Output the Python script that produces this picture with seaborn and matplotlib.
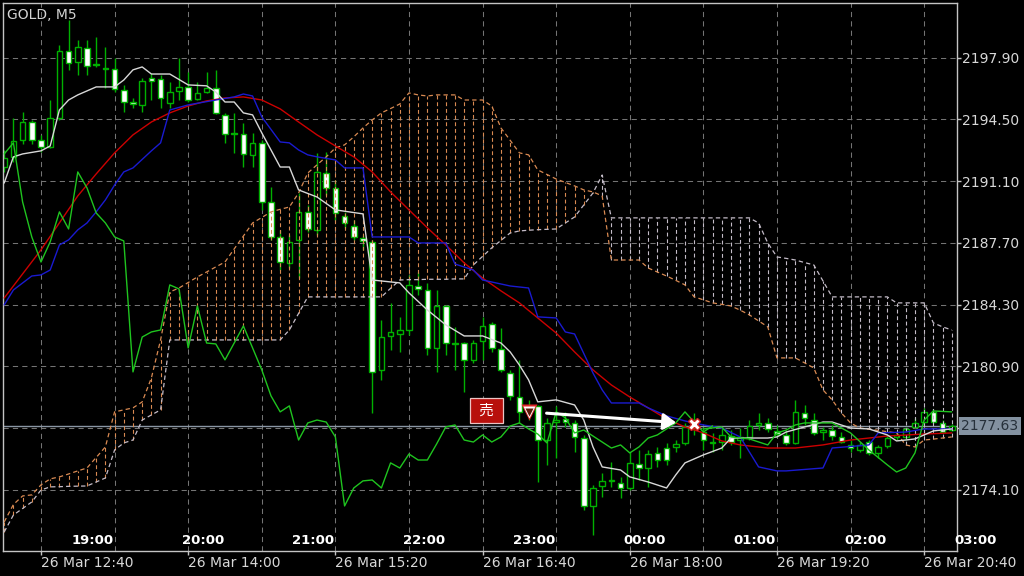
import matplotlib
matplotlib.use("Agg")
import matplotlib.pyplot as plt
import seaborn as sns
import numpy as np
import pandas as pd

# GOLD M5, 26 Mar, bars 12:20 .. 20:55 (server time)
opens = [2191.88, 2192.44, 2193.37, 2194.36, 2193.37, 2192.99, 2194.58, 2198.27, 2197.67, 2198.44,
         2197.56, 2197.34, 2197.28, 2196.12, 2195.46, 2195.30, 2196.79, 2196.73, 2195.41, 2196.07,
         2196.29, 2195.63, 2196.01, 2196.23, 2194.75, 2193.76, 2193.70, 2192.55, 2193.21, 2189.96,
         2188.03, 2186.60, 2187.87, 2189.41, 2188.42, 2191.55, 2190.73, 2189.19, 2188.64, 2187.98,
         2187.76, 2180.71, 2182.58, 2182.69, 2182.91, 2185.33, 2185.11, 2181.92, 2184.23, 2182.19,
         2182.19, 2181.26, 2182.30, 2183.24, 2181.86, 2180.54, 2179.22, 2178.40, 2178.73, 2176.85,
         2177.84, 2178.01, 2177.79, 2176.96, 2173.22, 2174.32, 2174.60, 2174.49, 2174.21, 2175.53,
         2175.31, 2176.14, 2176.41, 2176.47, 2176.69, 2177.95, 2177.29, 2176.69, 2176.74, 2177.07,
         2176.85, 2177.02, 2177.68, 2177.79, 2177.35, 2177.13, 2176.69, 2178.34, 2177.95, 2177.29,
         2177.40, 2177.02, 2176.58, 2176.30, 2176.74, 2176.14, 2176.52, 2177.02, 2177.02, 2177.57,
         2177.84, 2178.40, 2177.79, 2177.40]
highs = [2192.82, 2194.58, 2194.91, 2194.47, 2193.65, 2195.57, 2198.60, 2199.98, 2198.88, 2198.88,
         2199.04, 2198.49, 2197.89, 2196.40, 2195.68, 2196.79, 2197.06, 2196.95, 2196.57, 2197.89,
         2197.12, 2196.57, 2197.12, 2197.23, 2194.86, 2194.86, 2194.31, 2193.76, 2193.37, 2190.78,
         2188.42, 2188.14, 2190.45, 2189.79, 2192.66, 2192.71, 2191.17, 2189.41, 2188.97, 2188.14,
         2187.87, 2183.46, 2184.40, 2183.63, 2185.94, 2186.10, 2185.50, 2185.11, 2184.29, 2183.08,
         2182.25, 2182.36, 2183.63, 2183.35, 2183.02, 2180.71, 2181.26, 2179.06, 2178.78, 2178.07,
         2178.73, 2178.40, 2177.95, 2177.13, 2174.38, 2175.04, 2175.64, 2174.82, 2176.19, 2176.30,
         2176.30, 2176.47, 2176.69, 2176.85, 2177.79, 2178.34, 2177.57, 2177.24, 2177.57, 2177.40,
         2177.51, 2177.95, 2178.34, 2178.07, 2177.68, 2177.40, 2179.06, 2178.78, 2178.34, 2177.57,
         2177.68, 2177.29, 2176.85, 2176.74, 2176.85, 2176.58, 2177.13, 2177.29, 2177.57, 2178.07,
         2178.62, 2178.56, 2177.95, 2177.73]
lows = [2191.61, 2192.16, 2193.15, 2193.15, 2192.71, 2192.93, 2194.47, 2197.23, 2196.95, 2196.95,
        2197.39, 2196.23, 2196.01, 2194.91, 2195.13, 2194.91, 2195.57, 2195.13, 2195.13, 2195.57,
        2195.46, 2195.57, 2195.96, 2194.80, 2193.21, 2192.66, 2191.88, 2191.88, 2189.52, 2187.87,
        2186.21, 2186.32, 2185.77, 2188.31, 2188.14, 2190.34, 2188.97, 2188.53, 2187.87, 2187.32,
        2178.34, 2180.16, 2181.81, 2181.70, 2182.63, 2184.84, 2181.53, 2180.60, 2181.53, 2180.71,
        2179.50, 2181.09, 2181.26, 2181.70, 2180.60, 2179.06, 2177.79, 2177.95, 2174.54, 2175.48,
        2175.86, 2177.57, 2176.19, 2173.00, 2171.62, 2173.72, 2174.27, 2173.66, 2174.10, 2174.65,
        2174.27, 2175.37, 2175.48, 2176.19, 2176.58, 2177.13, 2176.30, 2176.19, 2176.30, 2176.58,
        2175.86, 2176.85, 2177.40, 2177.29, 2177.02, 2176.58, 2176.63, 2177.68, 2177.13, 2176.85,
        2176.85, 2176.69, 2176.19, 2176.19, 2176.03, 2175.86, 2176.41, 2176.85, 2176.85, 2177.51,
        2177.79, 2177.79, 2177.24, 2177.35]
closes = [2192.38, 2193.32, 2194.36, 2193.37, 2192.99, 2194.58, 2198.27, 2197.61, 2198.49, 2197.45,
          2197.50, 2197.28, 2196.18, 2195.46, 2195.35, 2196.62, 2196.62, 2195.68, 2196.01, 2196.29,
          2195.57, 2195.96, 2196.23, 2194.86, 2193.70, 2193.70, 2192.60, 2193.21, 2189.96, 2188.03,
          2186.65, 2187.76, 2189.41, 2188.47, 2191.61, 2190.73, 2189.35, 2188.80, 2188.03, 2187.81,
          2180.60, 2182.52, 2182.80, 2182.91, 2185.39, 2185.17, 2181.92, 2184.23, 2182.19, 2182.14,
          2181.26, 2182.19, 2183.13, 2181.92, 2180.71, 2179.28, 2178.40, 2178.73, 2176.85, 2177.79,
          2177.95, 2177.84, 2177.02, 2173.22, 2174.21, 2174.60, 2174.65, 2174.21, 2175.59, 2175.31,
          2176.08, 2175.75, 2175.75, 2176.63, 2177.57, 2177.68, 2176.85, 2176.74, 2177.13, 2176.74,
          2177.02, 2177.62, 2177.79, 2177.46, 2177.18, 2176.69, 2178.40, 2178.07, 2177.24, 2177.40,
          2177.07, 2176.74, 2176.41, 2176.58, 2176.14, 2176.47, 2176.96, 2177.13, 2177.46, 2177.79,
          2178.40, 2177.84, 2177.29, 2177.63]

# ichimoku lines (vertices, bar index -> price)
tenkan_idx = [0, 1, 2, 4, 5, 6, 7, 8, 10, 12, 13, 14, 15, 16, 18, 20, 22, 23, 24, 25,
              26, 27, 28, 30, 31, 32, 34, 36, 39, 40, 43, 44, 46, 48, 50, 52, 54, 55, 56, 57,
              58, 60, 62, 63, 64, 65, 67, 68, 70, 72, 73, 74, 76, 78, 79, 83, 84, 85, 87, 89,
              90, 92, 94, 96, 97, 98, 99, 100, 101, 103]
tenkan_val = [2191.00, 2192.44, 2192.60, 2192.77, 2193.04, 2195.02, 2195.57, 2195.85, 2196.29, 2196.29,
              2196.67, 2197.23, 2197.39, 2197.00, 2197.00, 2196.40, 2196.35, 2196.01, 2195.46, 2195.46,
              2194.86, 2194.75, 2193.76, 2191.88, 2191.88, 2190.62, 2190.23, 2189.52, 2189.30, 2185.66,
              2185.50, 2184.95, 2184.01, 2183.19, 2182.58, 2182.58, 2182.19, 2181.70, 2180.98, 2180.16,
              2178.95, 2179.06, 2178.78, 2177.95, 2176.47, 2175.37, 2175.20, 2174.82, 2174.54, 2174.21,
              2174.93, 2175.59, 2176.03, 2176.41, 2176.96, 2176.96, 2177.02, 2177.29, 2177.57, 2177.84,
              2177.84, 2177.51, 2177.46, 2177.13, 2176.80, 2176.85, 2176.91, 2177.13, 2177.35, 2177.46]

kijun_idx = [0, 1, 3, 4, 5, 6, 7, 8, 9, 10, 11, 12, 13, 14, 16, 17, 18, 20, 23, 25,
             26, 27, 28, 30, 31, 32, 33, 34, 36, 37, 39, 40, 44, 45, 48, 49, 51, 52, 55, 57,
             58, 60, 61, 62, 64, 65, 66, 69, 70, 71, 72, 74, 76, 78, 80, 82, 84, 85, 89, 90,
             94, 95, 98, 100, 103]
kijun_val = [2184.29, 2185.11, 2185.88, 2185.94, 2186.21, 2187.59, 2187.87, 2188.42, 2188.80, 2189.41,
             2190.07, 2190.89, 2191.61, 2191.83, 2192.77, 2193.21, 2195.02, 2195.30, 2195.57, 2195.74,
             2195.90, 2195.79, 2194.64, 2193.26, 2193.21, 2192.82, 2192.55, 2192.44, 2192.27, 2191.83,
             2191.83, 2188.03, 2188.03, 2187.70, 2187.70, 2186.54, 2186.21, 2185.66, 2185.33, 2185.22,
             2183.63, 2183.57, 2182.80, 2182.69, 2180.54, 2179.61, 2178.89, 2178.89, 2178.62, 2178.40,
             2178.18, 2177.90, 2177.68, 2177.51, 2177.02, 2175.37, 2175.15, 2175.15, 2175.31, 2176.41,
             2176.58, 2177.24, 2177.29, 2177.46, 2177.46]

ma_idx = [0, 4, 8, 10, 12, 14, 16, 18, 20, 22, 24, 26, 28, 30, 32, 34, 36, 38, 40, 42,
          44, 46, 48, 50, 52, 54, 56, 58, 60, 62, 64, 66, 68, 70, 72, 74, 76, 78, 80, 83,
          86, 89, 92, 96, 100, 103]
ma_val = [2184.67, 2187.32, 2190.29, 2191.50, 2192.66, 2193.65, 2194.36, 2194.86, 2195.24, 2195.52,
          2195.68, 2195.74, 2195.57, 2195.08, 2194.36, 2193.65, 2193.04, 2192.44, 2191.61, 2190.51,
          2189.52, 2188.53, 2187.59, 2186.60, 2185.77, 2185.06, 2184.40, 2183.57, 2182.74, 2181.70,
          2180.71, 2179.88, 2179.22, 2178.62, 2178.01, 2177.57, 2177.24, 2176.80, 2176.58, 2176.41,
          2176.41, 2176.58, 2176.85, 2177.07, 2177.18, 2177.24]

green2_idx = [76, 78, 79, 81, 83, 84, 85, 86, 87, 90, 92, 94, 96, 97, 98, 99, 100, 101, 103]
green2_val = [2177.46, 2177.57, 2177.02, 2176.91, 2176.58, 2177.24, 2177.40, 2177.68, 2177.79, 2177.79,
              2177.24, 2176.30, 2175.48, 2175.09, 2175.31, 2176.14, 2177.95, 2178.45, 2178.40]

span_a = [2172.34, 2173.30, 2173.77, 2173.83, 2174.38, 2174.71, 2174.82, 2174.98, 2175.15, 2175.31,
          2175.89, 2176.47, 2178.40, 2178.51, 2178.62, 2178.95, 2180.27, 2182.36, 2185.00, 2185.22,
          2185.52, 2185.83, 2186.10, 2186.38, 2186.65, 2187.37, 2188.08, 2188.80, 2189.10, 2189.41,
          2189.55, 2189.68, 2190.45, 2191.55, 2192.00, 2192.44, 2192.93, 2193.10, 2193.54, 2194.03,
          2194.47, 2194.86, 2195.10, 2195.35, 2195.96, 2195.85, 2195.79, 2195.85, 2195.85, 2195.85,
          2195.57, 2195.57, 2195.57, 2195.24, 2194.03, 2193.35, 2192.66, 2192.55, 2191.72, 2191.47,
          2191.22, 2191.03, 2190.84, 2190.62, 2190.51, 2190.29, 2186.76, 2186.76, 2186.76, 2186.76,
          2186.32, 2186.10, 2185.88, 2185.64, 2185.39, 2184.73, 2184.57, 2184.40, 2184.32, 2184.23,
          2184.00, 2183.74, 2183.41, 2183.08, 2181.37, 2181.37, 2181.37, 2181.10, 2180.82, 2179.61,
          2179.06, 2178.34, 2177.79, 2177.51, 2177.45, 2177.38, 2177.31, 2177.24, 2176.58, 2176.47,
          2176.85, 2176.90, 2176.96, 2177.02]
span_b = [2171.79, 2172.72, 2173.08, 2173.44, 2174.10, 2174.27, 2174.28, 2174.30, 2174.31, 2174.32,
          2174.54, 2174.76, 2176.30, 2176.69, 2176.85, 2177.95, 2178.23, 2178.51, 2182.36, 2182.36,
          2182.36, 2182.36, 2182.36, 2182.36, 2182.36, 2182.36, 2182.36, 2182.36, 2182.36, 2182.36,
          2182.36, 2182.91, 2183.82, 2184.73, 2184.73, 2184.73, 2184.73, 2184.73, 2184.73, 2184.73,
          2184.73, 2184.73, 2185.20, 2185.66, 2185.68, 2185.68, 2185.70, 2185.70, 2185.70, 2185.72,
          2185.72, 2186.49, 2186.96, 2187.43, 2187.84, 2188.25, 2188.36, 2188.40, 2188.43, 2188.45,
          2188.47, 2188.80, 2189.13, 2189.79, 2190.45, 2191.44, 2189.08, 2189.08, 2189.08, 2189.08,
          2189.08, 2189.08, 2189.08, 2189.08, 2189.08, 2189.08, 2189.08, 2189.08, 2189.08, 2189.08,
          2189.08, 2189.08, 2188.80, 2187.70, 2186.93, 2186.85, 2186.76, 2186.62, 2186.49, 2185.61,
          2184.73, 2184.73, 2184.73, 2184.73, 2184.73, 2184.73, 2184.73, 2184.40, 2184.40, 2184.40,
          2184.40, 2183.30, 2183.08, 2182.91]

# trade: sell entry and exit
trade_idx = [57, 75]
trade_price = [2178.40, 2177.74]

price_ticks = [2174.10, 2177.50, 2180.90, 2184.30, 2187.70, 2191.10, 2194.50, 2197.90]
bottom_labels = ["26 Mar 12:40", "26 Mar 14:00", "26 Mar 15:20", "26 Mar 16:40",
                 "26 Mar 18:00", "26 Mar 19:20", "26 Mar 20:40"]
top_labels = ["19:00", "20:00", "21:00", "22:00", "23:00", "00:00", "01:00", "02:00", "03:00"]

CHIKOU_SHIFT = 26
GREEN = "#00b000"
LIME = "#1fc41f"
ORANGE = "#d98a52"
THISTLE = "#c4bcc8"
GRID = "#747474"
FRAME = "#c4c4c4"

sns.set_theme(style="dark")
plt.rcParams["font.family"] = ["DejaVu Sans"]

df = pd.DataFrame({"open": opens, "high": highs, "low": lows, "close": closes})
df["i"] = np.arange(len(df))
df["bull"] = df["close"] >= df["open"]

fig = plt.figure(figsize=(10.24, 5.76), dpi=100, facecolor="black")
ax = fig.add_axes([3 / 1024, 25 / 576, 954 / 1024, 548 / 576])
ax.set_facecolor("black")
ax.grid(False)

# grid
for y in price_ticks:
    ax.axhline(y, color=GRID, lw=0.75, ls=(0, (5, 4)), zorder=0)
for x in range(4, 104, 8):
    ax.axvline(x, color=GRID, lw=0.75, ls=(0, (5, 4)), zorder=0)

# current price line
ax.axhline(closes[-1], color="#8a96a4", lw=1.0, zorder=1)

# candles
ax.vlines(df["i"], df["low"], df["high"], color=GREEN, lw=1.0, zorder=2)
body_lo = np.minimum(df["open"], df["close"])
body_h = np.maximum((df["close"] - df["open"]).abs(), 0.03)
ax.bar(df["i"], body_h, bottom=body_lo, width=0.6,
       color=np.where(df["bull"], "black", "white"), edgecolor=GREEN, linewidth=1.0, zorder=2.5)

# cloud hatching
a = np.array(span_a)
b = np.array(span_b)
up = a >= b
ax.vlines(df["i"][up], b[up], a[up], colors=ORANGE, linestyles=(0, (3.5, 2.5)), lw=0.8, zorder=3)
ax.vlines(df["i"][~up], a[~up], b[~up], colors=THISTLE, linestyles=(0, (3.5, 2.5)), lw=0.8, zorder=3)
sns.lineplot(x=df["i"], y=a, ax=ax, color=ORANGE, lw=0.9, linestyle=(0, (3.5, 2.5)), zorder=3)
sns.lineplot(x=df["i"], y=b, ax=ax, color=THISTLE, lw=0.9, linestyle=(0, (3.5, 2.5)), zorder=3)

# other lines
sns.lineplot(x=ma_idx, y=ma_val, ax=ax, color="#cc0000", lw=1.0, zorder=4)
sns.lineplot(x=kijun_idx, y=kijun_val, ax=ax, color="#1a1ad0", lw=1.0, zorder=4)
sns.lineplot(x=tenkan_idx, y=tenkan_val, ax=ax, color="#d8d8d8", lw=1.0, zorder=4)
sns.lineplot(x=df["i"][:-CHIKOU_SHIFT], y=df["close"][CHIKOU_SHIFT:].values, ax=ax,
             color=LIME, lw=1.0, zorder=4)
sns.lineplot(x=green2_idx, y=green2_val, ax=ax, color=LIME, lw=1.0, zorder=4)

# trade markers
sell_i, exit_i = trade_idx
sell_p, exit_p = trade_price
ax.annotate("", xy=(exit_i, exit_p), xytext=(sell_i, sell_p),
            arrowprops=dict(arrowstyle="-|>,head_length=0.55,head_width=0.35", color="white",
                            lw=2.2, shrinkA=13, shrinkB=13, mutation_scale=14), zorder=6)
ax.plot(sell_i, sell_p, marker="v", ms=11.5, mfc="#e02828", mec="none", zorder=7)
ax.plot(sell_i, sell_p, marker="v", ms=9, mfc="white", mec="none", zorder=7)
ax.plot(sell_i, sell_p, marker="v", ms=6, mfc="#5a1a08", mec="none", zorder=7)
ax.plot(exit_i, exit_p, marker="X", ms=9, mfc="white", mec="#d42020", mew=1.0, zorder=7)
ax.annotate(" 売 ", xy=(sell_i, sell_p), xytext=(-30.5, 1), textcoords="offset points",
            ha="center", va="center", color="white", fontsize=10.5,
            family=["Noto Sans CJK JP", "DejaVu Sans"],
            bbox=dict(boxstyle="square,pad=0.4", fc="#b8100c", ec="#ecc4c4", lw=0.9), zorder=7)

# axes
ax.set_xlim(-0.13, 103.57)
ax.set_ylim(2170.74, 2200.91)
ax.yaxis.tick_right()
ax.set_yticks(price_ticks)
ax.set_yticklabels(["" if abs(t - 2177.50) < 1e-6 else f"{t:.2f}" for t in price_ticks])
label_pos = list(range(4, 104, 16))
ax.set_xticks(label_pos)
ax.set_xticklabels(bottom_labels, ha="left")
ax.tick_params(axis="both", colors=FRAME, labelcolor="#d8d8d8", labelsize=10,
               length=3, width=1, pad=0.5, direction="out")
ax.tick_params(axis="y", left=False, right=True)
ax.tick_params(axis="x", bottom=True)
for s in ax.spines.values():
    s.set_color(FRAME)
    s.set_linewidth(1.0)
    s.set_visible(True)
ax.set_xlabel("")
ax.set_ylabel("")

# second time row inside the chart
for k, lab in enumerate(top_labels):
    ax.text(8 + 12 * k + 1.6, 0.02, lab, transform=ax.get_xaxis_transform(), ha="center",
            va="center", color="white", fontsize=9.5, fontweight="bold", clip_on=False)

ax.text(0.004, 0.978, "GOLD, M5", transform=ax.transAxes, ha="left", va="center",
        color="#d4d4d4", fontsize=10)

# current price tag
ax.annotate(f"{closes[-1]:.2f}", xy=(1, closes[-1]), xycoords=ax.get_yaxis_transform(),
            xytext=(3.2, 0), textcoords="offset points", ha="left", va="center",
            color="#26303a", fontsize=10,
            bbox=dict(boxstyle="square,pad=0.15", fc="#8391a0", ec="none"), annotation_clip=False)

fig.savefig("out.png", dpi=100, facecolor="black")
